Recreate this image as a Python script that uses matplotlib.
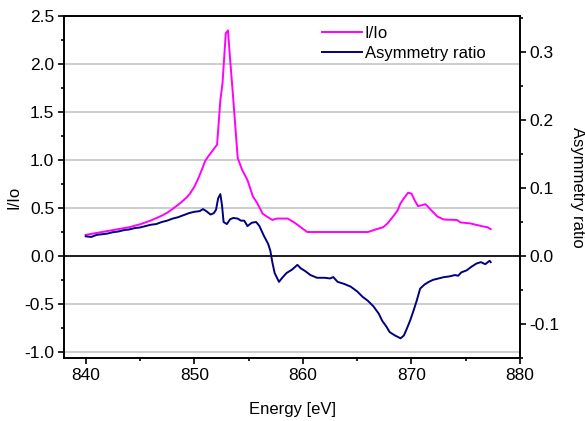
import numpy as np
import matplotlib
matplotlib.use('Agg')
import matplotlib.pyplot as plt
from matplotlib.ticker import MultipleLocator, FormatStrFormatter

plt.rcParams['font.family'] = ['Liberation Sans', 'DejaVu Sans']

# I/Io curve (left axis)
e_iio = [840.0, 841.0, 842.0, 843.0, 844.0, 845.0, 846.0, 847.0, 847.5, 848.0,
         848.7, 849.3, 849.6, 850.0, 850.3, 850.7, 851.0, 851.3, 851.7, 852.1,
         852.4, 852.6, 852.9, 853.1, 853.3, 853.6, 854.0, 854.4, 854.9, 855.4,
         855.8, 856.3, 856.7, 857.2, 857.6, 858.6, 859.2, 859.8, 860.4, 866.0,
         866.8, 867.4, 867.8, 868.3, 868.7, 869.0, 869.3, 869.7, 870.0, 870.3,
         870.6, 871.0, 871.3, 871.8, 872.4, 873.0, 874.2, 874.5, 875.4, 876.5,
         877.0, 877.3]
iio = [0.22, 0.24, 0.26, 0.28, 0.30, 0.33, 0.37, 0.42, 0.45, 0.49,
       0.55, 0.61, 0.65, 0.72, 0.79, 0.90, 0.99, 1.04, 1.10, 1.16,
       1.62, 1.80, 2.32, 2.35, 2.05, 1.62, 1.02, 0.90, 0.79, 0.62,
       0.55, 0.44, 0.41, 0.375, 0.39, 0.39, 0.35, 0.30, 0.25, 0.25,
       0.28, 0.30, 0.34, 0.41, 0.47, 0.55, 0.60, 0.66, 0.65, 0.58,
       0.52, 0.53, 0.54, 0.48, 0.41, 0.38, 0.375, 0.35, 0.34, 0.31,
       0.30, 0.28]

# asymmetry ratio (right axis)
e_asym = [840.0, 840.5, 841.0, 841.5, 842.0, 842.5, 843.0, 843.5, 844.0, 844.5,
          845.0, 845.5, 846.0, 846.5, 847.0, 847.5, 848.0, 848.5, 849.0, 849.5,
          850.0, 850.5, 850.8, 851.1, 851.5, 851.8, 852.0, 852.2, 852.4, 852.55,
          852.7, 853.0, 853.3, 853.6, 854.0, 854.3, 854.6, 854.9, 855.3, 855.7,
          856.0, 856.4, 856.8, 857.0, 857.2, 857.4, 857.8, 858.1, 858.5, 859.0,
          859.5, 859.8, 860.2, 860.7, 861.3, 862.0, 862.5, 862.8, 863.2, 863.8,
          864.4, 865.0, 865.5, 866.0, 866.5, 867.0, 867.3, 867.7, 868.0, 868.5,
          869.0, 869.3, 869.6, 869.9, 870.2, 870.5, 870.8, 871.2, 871.6, 872.0,
          872.5, 873.0, 873.5, 874.0, 874.3, 874.6, 875.1, 875.5, 876.0, 876.4,
          876.8, 877.2, 877.3]
asym = [0.029, 0.028, 0.031, 0.032, 0.033, 0.035, 0.036, 0.038, 0.039, 0.041,
        0.042, 0.044, 0.046, 0.047, 0.050, 0.052, 0.055, 0.057, 0.060, 0.063,
        0.065, 0.066, 0.069, 0.066, 0.061, 0.063, 0.068, 0.085, 0.091, 0.075,
        0.050, 0.047, 0.054, 0.056, 0.055, 0.052, 0.052, 0.044, 0.049, 0.050,
        0.044, 0.030, 0.018, 0.008, -0.010, -0.025, -0.038, -0.032, -0.025, -0.020,
        -0.013, -0.018, -0.022, -0.028, -0.032, -0.032, -0.033, -0.031, -0.038, -0.041,
        -0.045, -0.052, -0.060, -0.066, -0.074, -0.085, -0.095, -0.104, -0.112, -0.117,
        -0.121, -0.117, -0.106, -0.094, -0.080, -0.065, -0.048, -0.042, -0.038, -0.035,
        -0.033, -0.031, -0.030, -0.028, -0.029, -0.024, -0.021, -0.016, -0.011, -0.009,
        -0.012, -0.007, -0.009]

fig = plt.figure(figsize=(5.85, 4.21), dpi=100)
ax = fig.add_axes([0.1094, 0.1496, 0.7795, 0.8124])
ax2 = ax.twinx()

# gridlines and zero line
ax.set_axisbelow(True)
ax.yaxis.grid(True, which='major', color='#c0c0c0', lw=1.1)
ax.axhline(0, color='black', lw=1.2, zorder=1)

l1, = ax.plot(e_iio, iio, color='#ff00ff', lw=1.4, label='I/Io', zorder=3)
l2, = ax2.plot(e_asym, asym, color='#000080', lw=1.4, label='Asymmetry ratio')

ax.set_xlim(838, 880)
ax.set_ylim(-1.0625, 2.5)
scale = 96.0 / 680.0
ax2.set_ylim(-1.0625 * scale, 2.5 * scale)

ax.xaxis.set_major_locator(MultipleLocator(10))
ax.xaxis.set_minor_locator(MultipleLocator(5))
ax.yaxis.set_major_locator(MultipleLocator(0.5))
ax.yaxis.set_minor_locator(MultipleLocator(0.25))
ax.yaxis.set_major_formatter(FormatStrFormatter('%.1f'))
ax2.yaxis.set_major_locator(MultipleLocator(0.1))
ax2.yaxis.set_minor_locator(MultipleLocator(0.05))
ax2.yaxis.set_major_formatter(FormatStrFormatter('%.1f'))

for a in (ax, ax2):
    for s in a.spines.values():
        s.set_linewidth(1.2)
    a.tick_params(which='major', direction='out', length=4, width=1.2, labelsize=12.5, pad=3)
    a.tick_params(which='minor', direction='out', length=2.2, width=1.2)

ax.set_xlabel('Energy [eV]', fontsize=12, labelpad=14)
ax.set_ylabel('I/Io', fontsize=12)
ax.yaxis.set_label_coords(-0.094, 0.47)
ax2.set_ylabel('Asymmetry ratio', fontsize=12, rotation=270, labelpad=18)

ax2.legend(handles=[l1, l2], loc='upper left', bbox_to_anchor=(0.566, 0.97),
           frameon=False, fontsize=12, handlelength=2.4, handletextpad=0.15,
           borderpad=0, borderaxespad=0, labelspacing=0.28)

fig.savefig('out.png', dpi=100)
plt.close()
